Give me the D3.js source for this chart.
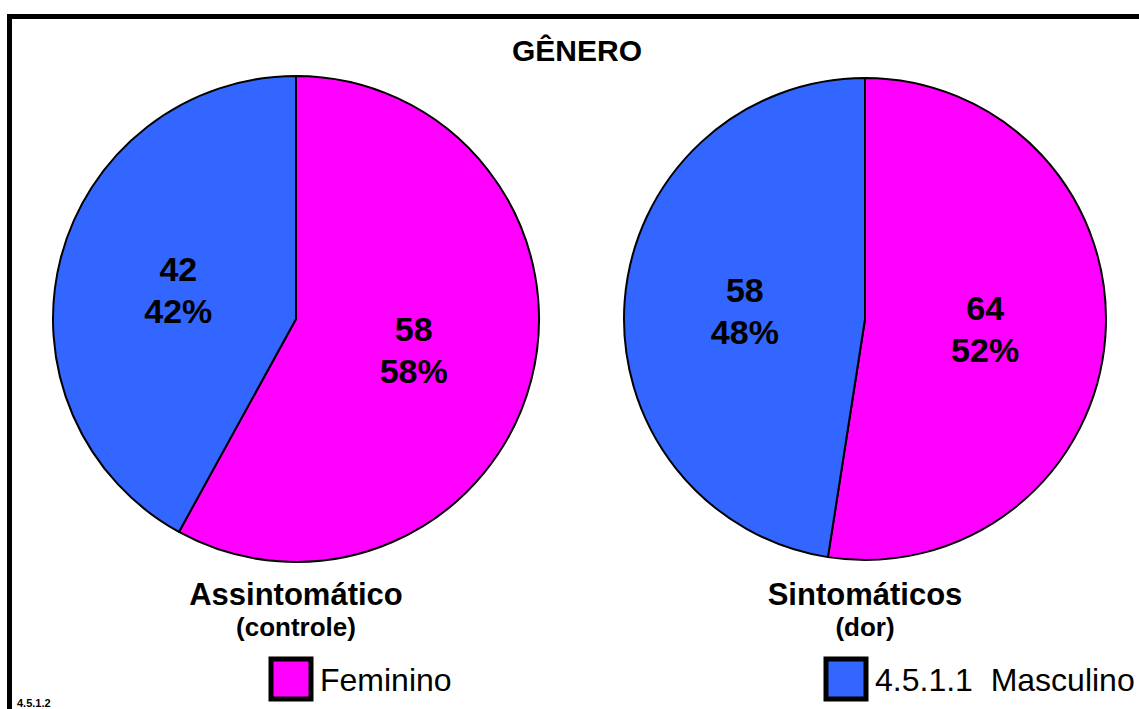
<!DOCTYPE html>
<html>
<head>
<meta charset="utf-8">
<script src="https://cdn.jsdelivr.net/npm/d3@7"></script>
<style>
  html, body { margin: 0; padding: 0; background: #fff; }
  svg { display: block; font-family: Arial, "Liberation Sans", sans-serif; }
</style>
</head>
<body>
<svg id="chart" width="1139" height="709"></svg>
<script>
// Gender distribution by group
const title = "GÊNERO";
const categories = ["Feminino", "Masculino"];
const groups = ["Assintomático", "Sintomáticos"];
const subtitles = ["(controle)", "(dor)"];
const counts = [[58, 42], [64, 58]];
const percents = [[58, 42], [52, 48]];
const legendLabels = ["Feminino", "4.5.1.1  Masculino"];
const footnote = "4.5.1.2";
const colors = ["#FF00FF", "#3366FF"];

const svg = d3.select("#chart");
const W = 1139, H = 709;

// outer frame (extends past the right and bottom edges)
svg.append("rect")
  .attr("x", 9.5).attr("y", 16.5)
  .attr("width", W + 20).attr("height", H + 20)
  .attr("fill", "none").attr("stroke", "#000").attr("stroke-width", 5);

svg.append("text")
  .attr("x", 577).attr("y", 61)
  .attr("text-anchor", "middle")
  .attr("font-size", 30).attr("font-weight", "bold")
  .text(title);

const pies = [
  { cx: 296, cy: 319, r: 243, labelX: 296 },
  { cx: 865, cy: 319, r: 241, labelX: 865 }
];

const pie = d3.pie().sort(null).value(d => d);
const color = d3.scaleOrdinal().domain(categories).range(colors);

pies.forEach((p, gi) => {
  const g = svg.append("g").attr("transform", `translate(${p.cx},${p.cy})`);
  const arcs = pie(counts[gi]);
  const arc = d3.arc().innerRadius(0).outerRadius(p.r);
  const labelArc = d3.arc().innerRadius(p.r * 0.5).outerRadius(p.r * 0.5);

  g.selectAll("path")
    .data(arcs)
    .join("path")
    .attr("d", arc)
    .attr("fill", (d, i) => color(categories[i]))
    .attr("stroke", "#000")
    .attr("stroke-width", 2)
    .attr("stroke-linejoin", "round");

  arcs.forEach((a, i) => {
    const [lx, ly] = labelArc.centroid(a);
    const t = g.append("text")
      .attr("text-anchor", "middle")
      .attr("font-size", 34).attr("font-weight", "bold")
      .attr("fill", "#000");
    t.append("tspan").attr("x", lx).attr("y", ly - 8).text(counts[gi][i]);
    t.append("tspan").attr("x", lx).attr("y", ly + 34).text(percents[gi][i] + "%");
  });

  svg.append("text")
    .attr("x", p.labelX).attr("y", 605)
    .attr("text-anchor", "middle")
    .attr("font-size", 31).attr("font-weight", "bold")
    .text(groups[gi]);
  svg.append("text")
    .attr("x", p.labelX).attr("y", 636)
    .attr("text-anchor", "middle")
    .attr("font-size", 26).attr("font-weight", "bold")
    .text(subtitles[gi]);
});

// legend
const legendPos = [{ x: 269, y: 657 }, { x: 824, y: 657 }];
legendLabels.forEach((lab, i) => {
  const lp = legendPos[i];
  svg.append("rect")
    .attr("x", lp.x + 2).attr("y", lp.y + 2)
    .attr("width", 40).attr("height", 40)
    .attr("fill", colors[i])
    .attr("stroke", "#000").attr("stroke-width", 5);
  svg.append("text")
    .attr("x", lp.x + 51).attr("y", lp.y + 34)
    .attr("font-size", 32)
    .attr("fill", "#000")
    .style("white-space", "pre")
    .attr("xml:space", "preserve")
    .text(lab);
});

svg.append("text")
  .attr("x", 17).attr("y", 707)
  .attr("font-size", 11).attr("font-weight", "bold")
  .text(footnote);
</script>
</body>
</html>
